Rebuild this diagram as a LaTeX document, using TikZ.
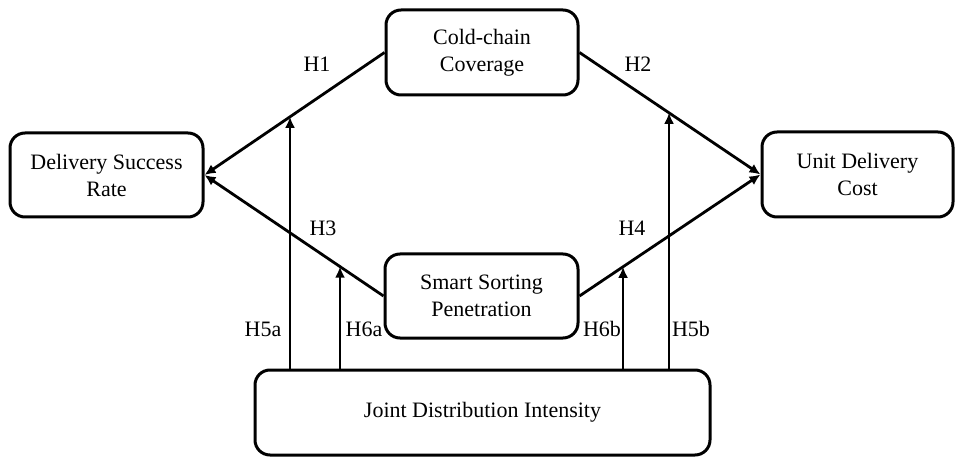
\documentclass[tikz,border=0pt]{standalone}
\usepackage{fontspec}
\setmainfont{Liberation Serif}
\usetikzlibrary{arrows.meta,calc}
\begin{document}
\begin{tikzpicture}[x=1pt,y=-1pt,
  box/.style={draw,line width=3pt,rounded corners=15pt,align=center,inner sep=0pt,
    font=\fontsize{22}{27}\selectfont},
  conn/.style={line width=2.8pt,-{Latex[length=11pt,width=10pt]}},
  lbl/.style={font=\fontsize{22}{26}\selectfont,inner sep=0pt}]
\useasboundingbox (0,0) rectangle (964,465);
\node[box,minimum width=193pt,minimum height=84pt] (D) at (106.5,175) {Delivery Success\\Rate};
\node[box,minimum width=192pt,minimum height=85pt] (C) at (482,52.5) {Cold-chain\\Coverage};
\node[box,minimum width=191pt,minimum height=85pt] (U) at (857.5,174.5) {Unit Delivery\\Cost};
\node[box,minimum width=193pt,minimum height=84pt] (S) at (481.5,296) {Smart Sorting\\Penetration};
\node[box,minimum width=455pt,minimum height=85pt] (J) at (482.5,412.5) {Joint Distribution Intensity};
\draw[conn] (C.west) -- (D.east);
\draw[conn] (S.west) -- (D.east);
\draw[conn] (C.east) -- (U.west);
\draw[conn] (S.east) -- (U.west);
\coordinate (p5a) at (intersection of C.west--D.east and 290,0--290,465);
\coordinate (p6a) at (intersection of S.west--D.east and 340,0--340,465);
\coordinate (p6b) at (intersection of S.east--U.west and 623,0--623,465);
\coordinate (p5b) at (intersection of C.east--U.west and 669,0--669,465);
\draw[conn] (J.north -| p5a) -- (p5a);
\draw[conn] (J.north -| p6a) -- (p6a);
\draw[conn] (J.north -| p6b) -- (p6b);
\draw[conn] (J.north -| p5b) -- (p5b);
\node[lbl] (h1) at (317,64) {H1};
\node[lbl] (h2) at (638,64) {H2};
\node[lbl] (h3) at (323,228) {H3};
\node[lbl] (h4) at (632,228) {H4};
\node[lbl] (h5a) at (263,329) {H5a};
\node[lbl] (h6a) at (364,329) {H6a};
\node[lbl] (h6b) at (602,329) {H6b};
\node[lbl] (h5b) at (691,329) {H5b};
\end{tikzpicture}
\end{document}
